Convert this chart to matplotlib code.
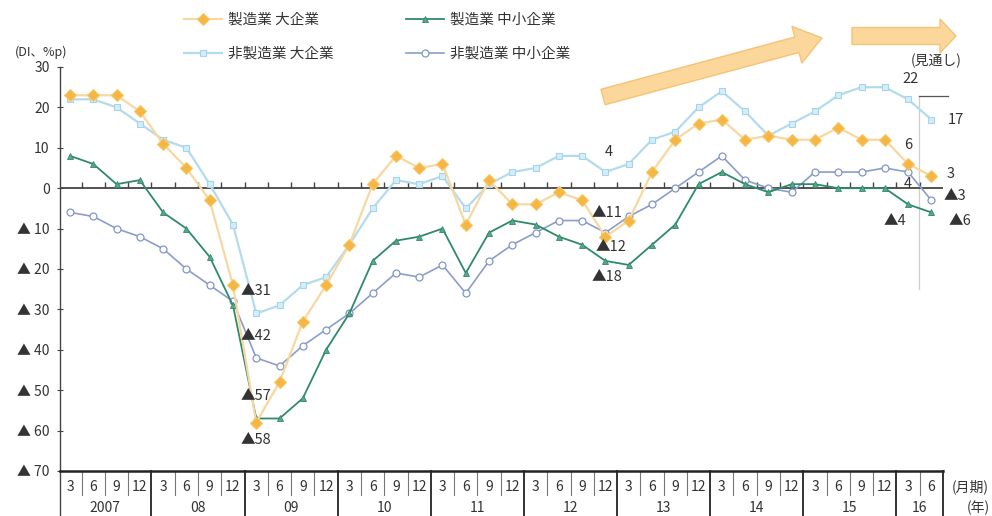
import matplotlib
matplotlib.use("Agg")
import matplotlib.pyplot as plt
from matplotlib.patches import FancyArrow
from matplotlib.transforms import IdentityTransform
import numpy as np

plt.rcParams['font.family'] = ['Noto Sans CJK JP', 'DejaVu Sans']

# Quarterly DI, 2007/3 .. 2016/3 (actual) + 2016/6 (forecast)
months = [3, 6, 9, 12] * 9 + [3, 6]
years = ["2007", "08", "09", "10", "11", "12", "13", "14", "15", "16"]

mfg_large = [23, 23, 23, 19, 11, 5, -3, -24, -58, -48, -33, -24, -14, 1, 8, 5,
             6, -9, 2, -4, -4, -1, -3, -12, -8, 4, 12, 16, 17, 12, 13, 12,
             12, 15, 12, 12, 6, 3]
mfg_small = [8, 6, 1, 2, -6, -10, -17, -29, -57, -57, -52, -40, -31, -18, -13, -12,
             -10, -21, -11, -8, -9, -12, -14, -18, -19, -14, -9, 1, 4, 1, -1, 1,
             1, 0, 0, 0, -4, -6]
nonmfg_large = [22, 22, 20, 16, 12, 10, 1, -9, -31, -29, -24, -22, -14, -5, 2, 1,
                3, -5, 1, 4, 5, 8, 8, 4, 6, 12, 14, 20, 24, 19, 13, 16,
                19, 23, 25, 25, 22, 17]
nonmfg_small = [-6, -7, -10, -12, -15, -20, -24, -28, -42, -44, -39, -35, -31, -26, -21, -22,
                -19, -26, -18, -14, -11, -8, -8, -11, -7, -4, 0, 4, 8, 2, 0, -1,
                4, 4, 4, 5, 4, -3]

labels = {
    "mfg_large": "製造業 大企業",
    "mfg_small": "製造業 中小企業",
    "nonmfg_large": "非製造業 大企業",
    "nonmfg_small": "非製造業 中小企業",
}

series = {
    "mfg_large": mfg_large,
    "mfg_small": mfg_small,
    "nonmfg_large": nonmfg_large,
    "nonmfg_small": nonmfg_small,
}

TXT = "#333333"
W, H = 992, 516
fig = plt.figure(figsize=(W / 100, H / 100), dpi=100)
ax = fig.add_axes([60 / W, (H - 471) / H, (943 - 60) / W, (471 - 67) / H])

x = np.arange(len(months))

l_nl, = ax.plot(x, nonmfg_large, color="#b3dbee", lw=1.6, marker="s", ms=4,
                mfc="#d4edf8", mec="#a6d4ea", mew=0.8, zorder=3)
l_ns, = ax.plot(x, nonmfg_small, color="#8b9dcc", lw=1.2, marker="o", ms=5,
                mfc="white", mec="#8296c8", mew=0.9, zorder=3)
l_ms, = ax.plot(x, mfg_small, color="#2f8a6c", lw=1.3, marker="^", ms=4.5,
                mfc="#5aa68a", mec="#2f8a6c", mew=0.6, zorder=4)
l_ml, = ax.plot(x, mfg_large, color="#f9d7a0", lw=1.6, marker="D", ms=6.5,
                mfc="#f5b744", mec="#f8c767", mew=0.8, zorder=5)

ax.set_xlim(-0.43, 37.5)
ax.set_ylim(-70, 30)

# zero line with small quarter ticks
ax.axhline(0, color="#444444", lw=1.3, zorder=2)
ax.vlines(x[:-1] + 0.5, 0, 1.5, color="#444444", lw=1.0, zorder=2)

# y axis
yt = list(range(30, -71, -10))
ax.set_yticks(yt)
ax.set_yticklabels([str(v) if v >= 0 else "▲ " + str(-v) for v in yt],
                   fontsize=10, color=TXT)
ax.tick_params(axis="y", direction="inout", length=5, width=0.8, pad=5, colors="#444444")
for lab in ax.get_yticklabels():
    lab.set_color(TXT)
ax.set_xticks([])
for s in ("top", "right"):
    ax.spines[s].set_visible(False)
ax.spines["left"].set_color("#444444")
ax.spines["left"].set_linewidth(1.0)
ax.spines["bottom"].set_color("#222222")
ax.spines["bottom"].set_linewidth(1.8)

# bottom table: months / years
xt = ax.get_xaxis_transform()
for i, m in enumerate(months):
    ax.text(i, -0.040, str(m), transform=xt, ha="center", va="center",
            fontsize=10, color=TXT, clip_on=False)
for k, yl in enumerate(years):
    n = 4 if k < len(years) - 1 else 2
    ax.text(4 * k + (n - 1) / 2, -0.092, yl, transform=xt, ha="center", va="center",
            fontsize=10, color=TXT, clip_on=False)
for i in range(len(months) - 1):
    if (i + 1) % 4 == 0:
        continue
    ax.plot([i + 0.5, i + 0.5], [0, -0.06], transform=xt, color="#777777",
            lw=0.8, clip_on=False)
for b in list(np.arange(3.5, 37, 4)) + [37.5]:
    ax.plot([b, b], [0, -0.12], transform=xt, color="#222222", lw=1.3, clip_on=False)
ax.plot([-0.43, -0.43], [0, -0.12], transform=xt, color="#444444", lw=1.0, clip_on=False)

fig.text(952 / W, 1 - 487 / H, "(月期)", fontsize=10, color=TXT, ha="left", va="center")
fig.text(967 / W, 1 - 508 / H, "(年)", fontsize=10, color=TXT, ha="left", va="center")
fig.text(15 / W, 1 - 52 / H, "(DI、%p)", fontsize=9, color=TXT, ha="left", va="center")

# forecast bracket
fx = 36.45
ax.plot([fx, fx], [-25, 22.8], color="#cfcfcf", lw=0.9, zorder=1, clip_on=False)
ax.plot([fx, 37.7], [22.8, 22.8], color="#555555", lw=0.9, zorder=1, clip_on=False)
ax.text(37.2, 31.5, "(見通し)", fontsize=10, color=TXT, ha="center", va="center",
        clip_on=False)


def fmt(v):
    return "▲" + str(-v) if v < 0 else str(v)


# value labels: (series key, index, offset x px, offset y px, alignment)
notes = [
    ("nonmfg_large", 8, 0, 22, "center"),
    ("nonmfg_small", 8, 0, 22, "center"),
    ("mfg_small", 8, 0, 22, "center"),
    ("mfg_large", 8, 0, -17, "center"),
    ("nonmfg_small", 23, 2, 20, "center"),
    ("mfg_large", 23, 6, -10, "center"),
    ("mfg_small", 23, 1, -16, "center"),
    ("nonmfg_large", 23, 3, 20, "center"),
    ("nonmfg_large", 36, 2, 20, "center"),
    ("nonmfg_large", 37, 16, 0, "left"),
    ("mfg_large", 36, 0, 19, "center"),
    ("mfg_large", 37, 19, 2, "center"),
    ("nonmfg_small", 36, 0, -12, "center"),
    ("nonmfg_small", 37, 12, 4, "left"),
    ("mfg_small", 36, -13, -17, "center"),
    ("mfg_small", 37, 29, -9, "center"),
]
for key, i, dx, dy, ha in notes:
    v = series[key][i]
    ax.annotate(fmt(v), xy=(i, v), xytext=(dx, dy), textcoords="offset pixels",
                ha=ha, va="center", fontsize=10.5, color=TXT, zorder=6,
                annotation_clip=False)

# trend arrows
arrow_kw = dict(length_includes_head=True, transform=IdentityTransform(),
                facecolor="#fbd391", edgecolor="#f5bf6c", lw=1.0, alpha=0.9)
fig.patches.append(FancyArrow(603, H - 97, 219, 59, width=16, head_width=38,
                              head_length=26, **arrow_kw))
fig.patches.append(FancyArrow(852, H - 36, 104, 0, width=17, head_width=34,
                              head_length=16, **arrow_kw))

# legend
handles = [l_ml, l_nl, l_ms, l_ns]
names = [labels["mfg_large"], labels["nonmfg_large"], labels["mfg_small"], labels["nonmfg_small"]]
fig.legend(handles, names, ncol=2, loc="upper left", bbox_to_anchor=(184 / W, 1 - 13 / H),
           frameon=False, fontsize=10.5, handlelength=2.6, handletextpad=0.4,
           columnspacing=5.0, labelspacing=1.35, labelcolor=TXT, borderaxespad=0,
           borderpad=0)

fig.savefig("out.png", dpi=100)
